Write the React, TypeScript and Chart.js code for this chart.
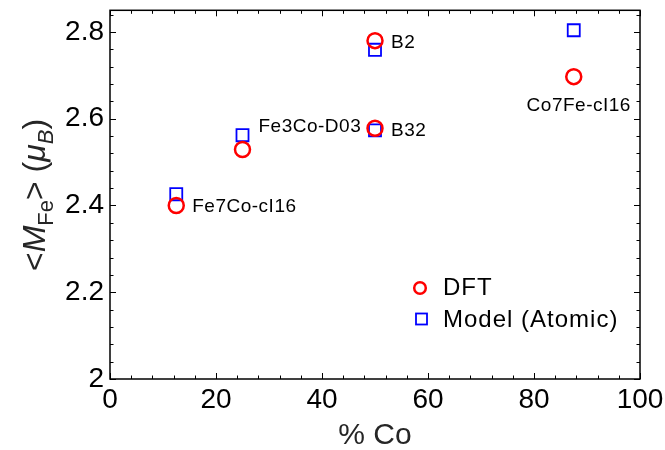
import React, { useEffect, useRef } from "react";
import { Chart, registerables } from "chart.js";

Chart.register(...registerables);

const coPercent = [12.5, 25, 50, 50, 87.5];
const dftValues = [2.40, 2.529, 2.780, 2.578, 2.697];
const modelValues = [2.426, 2.562, 2.759, 2.573, 2.804];
const phaseNames = ["Fe7Co-cI16", "Fe3Co-D03", "B2", "B32", "Co7Fe-cI16"];
const xTickValues = [0, 20, 40, 60, 80, 100];
const yTickValues = [2, 2.2, 2.4, 2.6, 2.8];
const seriesNames = ["DFT", "Model (Atomic)"];

const FONT = "'Liberation Sans', Arial, sans-serif";
const RED = "#ff0000";
const BLUE = "#0000ff";

// label placement: [anchor series (0 DFT / 1 model), dx, dy, align]
const labelPlacement: [number, number, number, CanvasTextAlign][] = [
  [0, 16, 1, "left"],
  [1, 16, -8, "left"],
  [0, 16, 2, "left"],
  [0, 16, 2, "left"],
  [0, 5, 29, "center"],
];

const decorPlugin = {
  id: "decor",
  afterDatasetsDraw(chart: any) {
    const ctx = chart.ctx as CanvasRenderingContext2D;
    const { left, right, top, bottom } = chart.chartArea;
    const xs = chart.scales.x;
    const ys = chart.scales.y;
    ctx.save();
    // frame
    ctx.strokeStyle = "#000";
    ctx.lineWidth = 1.5;
    ctx.strokeRect(left, top, right - left, bottom - top);
    // ticks
    ctx.lineWidth = 1;
    ctx.beginPath();
    for (let v = 0; v <= 100 + 1e-9; v += 4) {
      const major = Math.abs(v % 20) < 1e-6;
      const len = major ? 6 : 3.5;
      const px = Math.round(xs.getPixelForValue(v)) + 0.5;
      ctx.moveTo(px, bottom);
      ctx.lineTo(px, bottom - len);
      ctx.moveTo(px, top);
      ctx.lineTo(px, top + len);
    }
    for (let i = 0; i <= 21; i++) {
      const v = 2 + i * 0.04;
      if (v > 2.85) break;
      const major = i % 5 === 0;
      const len = major ? 6 : 3.5;
      const py = Math.round(ys.getPixelForValue(v)) + 0.5;
      ctx.moveTo(left, py);
      ctx.lineTo(left + len, py);
      ctx.moveTo(right, py);
      ctx.lineTo(right - len, py);
    }
    ctx.stroke();

    // data labels
    ctx.fillStyle = "#000";
    ctx.font = `19px ${FONT}`;
    (ctx as any).letterSpacing = "0.5px";
    ctx.textBaseline = "middle";
    phaseNames.forEach((name, i) => {
      const [series, dx, dy, align] = labelPlacement[i];
      const vals = series === 0 ? dftValues : modelValues;
      const px = xs.getPixelForValue(coPercent[i]);
      const py = ys.getPixelForValue(vals[i]);
      ctx.textAlign = align;
      ctx.fillText(name, px + dx, py + dy);
    });

    // legend
    const lx = 420;
    const ly = [288, 319];
    ctx.lineWidth = 2.5;
    ctx.strokeStyle = RED;
    ctx.beginPath();
    ctx.arc(lx, ly[0], 5.8, 0, Math.PI * 2);
    ctx.stroke();
    ctx.lineWidth = 1.8;
    ctx.strokeStyle = BLUE;
    ctx.strokeRect(lx + 1.5 - 5.5, ly[1] - 5.5, 11, 11);
    ctx.fillStyle = "#000";
    ctx.font = `24px ${FONT}`;
    (ctx as any).letterSpacing = "1px";
    ctx.textAlign = "left";
    ctx.textBaseline = "middle";
    ctx.fillText(seriesNames[0], 443, ly[0]);
    ctx.fillText(seriesNames[1], 443, ly[1] + 1);
    (ctx as any).letterSpacing = "0px";

    // x title
    ctx.fillStyle = "#262626";
    ctx.font = `30px ${FONT}`;
    ctx.textAlign = "center";
    ctx.textBaseline = "alphabetic";
    ctx.fillText("% Co", (left + right) / 2, 444);

    // y title with sub/italic parts
    const parts: [string, boolean, boolean][] = [
      ["<", false, false],
      ["M", true, false],
      ["Fe", false, true],
      ["> (", false, false],
      ["\u03bc", true, false],
      ["B", true, true],
      [")", false, false],
    ];
    const mainSize = 32;
    const subSize = 22;
    const fontFor = (it: boolean, sub: boolean) =>
      `${it ? "italic " : ""}${sub ? subSize : mainSize}px ${FONT}`;
    let total = 0;
    const widths = parts.map(([t, it, sub]) => {
      ctx.font = fontFor(it, sub);
      const w = ctx.measureText(t).width;
      total += w;
      return w;
    });
    ctx.translate(45, 195);
    ctx.rotate(-Math.PI / 2);
    ctx.textAlign = "left";
    ctx.textBaseline = "alphabetic";
    let cx = -total / 2;
    parts.forEach(([t, it, sub], i) => {
      ctx.font = fontFor(it, sub);
      ctx.fillText(t, cx, sub ? 8 : 0);
      cx += widths[i];
    });
    ctx.restore();
  },
};

export default function App() {
  const ref = useRef<HTMLCanvasElement>(null);
  useEffect(() => {
    document.body.style.margin = "0";
    const canvas = ref.current!;
    const chart = new Chart(canvas, {
      type: "scatter",
      data: {
        datasets: [
          {
            label: seriesNames[0],
            data: coPercent.map((x, i) => ({ x, y: dftValues[i] })),
            pointStyle: "circle",
            pointRadius: 7.5,
            pointBorderWidth: 2.5,
            borderColor: RED,
            backgroundColor: "rgba(0,0,0,0)",
            pointBackgroundColor: "rgba(0,0,0,0)",
            pointBorderColor: RED,
          },
          {
            label: seriesNames[1],
            data: coPercent.map((x, i) => ({ x, y: modelValues[i] })),
            pointStyle: "rect",
            pointRadius: 8.5,
            pointBorderWidth: 1.8,
            borderColor: BLUE,
            backgroundColor: "rgba(0,0,0,0)",
            pointBackgroundColor: "rgba(0,0,0,0)",
            pointBorderColor: BLUE,
          },
        ],
      },
      options: {
        responsive: false,
        animation: false,
        devicePixelRatio: 1,
        layout: { padding: { top: 9, right: 25, left: 0, bottom: 0 } },
        plugins: { legend: { display: false }, tooltip: { enabled: false } },
        scales: {
          x: {
            type: "linear",
            min: 0,
            max: 100,
            grid: { display: false, drawTicks: false },
            border: { display: false },
            afterBuildTicks: (s: any) => {
              s.ticks = xTickValues.map((v) => ({ value: v }));
            },
            afterFit: (s: any) => {
              s.height = 71;
              s.paddingLeft = 0;
              s.paddingRight = 0;
            },
            ticks: {
              color: "#000",
              font: { family: FONT, size: 28 },
              padding: 4,
              maxRotation: 0,
              callback: (v: any) => String(v),
            },
          },
          y: {
            type: "linear",
            min: 2,
            max: 2.85,
            grid: { display: false, drawTicks: false },
            border: { display: false },
            afterBuildTicks: (s: any) => {
              s.ticks = yTickValues.map((v) => ({ value: v }));
            },
            afterFit: (s: any) => {
              s.width = 110;
              s.paddingTop = 0;
              s.paddingBottom = 0;
            },
            ticks: {
              color: "#000",
              font: { family: FONT, size: 28 },
              padding: 6,
              callback: (v: any) => String(Math.round(v * 10) / 10),
            },
          },
        },
      },
      plugins: [decorPlugin],
    } as any);
    return () => chart.destroy();
  }, []);
  return (
    <canvas
      ref={ref}
      width={665}
      height={450}
      style={{ position: "fixed", left: 0, top: 0, display: "block" }}
    />
  );
}
